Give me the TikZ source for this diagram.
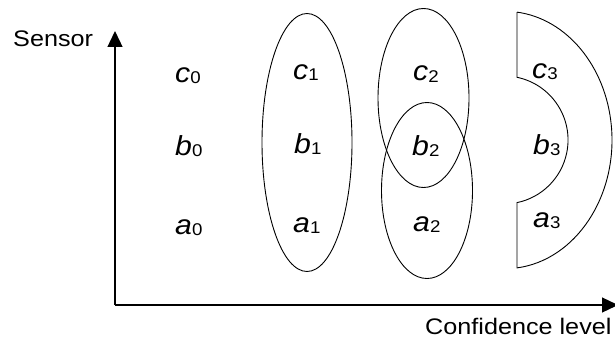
\documentclass[tikz,border=0pt]{standalone}
\usepackage{fontspec}
\usepackage{graphicx}
\setmainfont{Liberation Sans}
\usetikzlibrary{arrows.meta}
\newcommand\lbl[2]{\scalebox{1.1}[1]{{\fontsize{27.5}{27.5}\selectfont\itshape #1}\raisebox{-1.5pt}{\fontsize{17}{17}\selectfont #2}}}
\newcommand\axt[1]{\scalebox{1.12}[1]{\fontsize{22.5}{22.5}\selectfont #1}}
\begin{document}
\begin{tikzpicture}[x=1pt,y=-1pt,
  lab/.style={anchor=base west, inner sep=0pt},
  axisline/.style={line width=1.3pt, -{Triangle[length=16pt,width=15pt]}},
  outl/.style={line width=0.9pt},
  axtext/.style={anchor=base west, inner sep=0pt}]
\useasboundingbox (0,0) rectangle (615,345);
% axes
\coordinate (origin) at (115,305);
\coordinate (ytip) at (115,31);
\coordinate (xtip) at (618,305);
\draw[axisline] (origin) -- (ytip);
\draw[axisline] (origin) -- (xtip);
\node[axtext] (sensor) at (13,47) {\axt{Sensor}};
\node[axtext] (conf) at (425,334) {\axt{Confidence level}};
% column 0
\node[lab] (c0) at (175,82) {\lbl{c}{0}};
\node[lab] (b0) at (175,155) {\lbl{b}{0}};
\node[lab] (a0) at (175,234) {\lbl{a}{0}};
% column 1
\draw[outl] (307,142.5) ellipse [x radius=45, y radius=129];
\node[lab] (c1) at (293,79) {\lbl{c}{1}};
\node[lab] (b1) at (294,153) {\lbl{b}{1}};
\node[lab] (a1) at (293,232) {\lbl{a}{1}};
% column 2
\draw[outl] (423.5,98) ellipse [x radius=45.5, y radius=89.5];
\draw[outl] (427,190.5) ellipse [x radius=45.5, y radius=88];
\node[lab] (c2) at (413,81) {\lbl{c}{2}};
\node[lab] (b2) at (412,155) {\lbl{b}{2}};
\node[lab] (a2) at (413,231) {\lbl{a}{2}};
% column 3
\draw[outl] (517,12.1) -- (517,77.3)
  arc[start angle=-78.3, end angle=78.3, radius=64]
  -- (517,267.9)
  arc[start angle=83.56, end angle=-83.56, x radius=107, y radius=128.7]
  -- cycle;
\node[lab] (c3) at (532,78) {\lbl{c}{3}};
\node[lab] (b3) at (533,154) {\lbl{b}{3}};
\node[lab] (a3) at (533,227) {\lbl{a}{3}};
\end{tikzpicture}
\end{document}
